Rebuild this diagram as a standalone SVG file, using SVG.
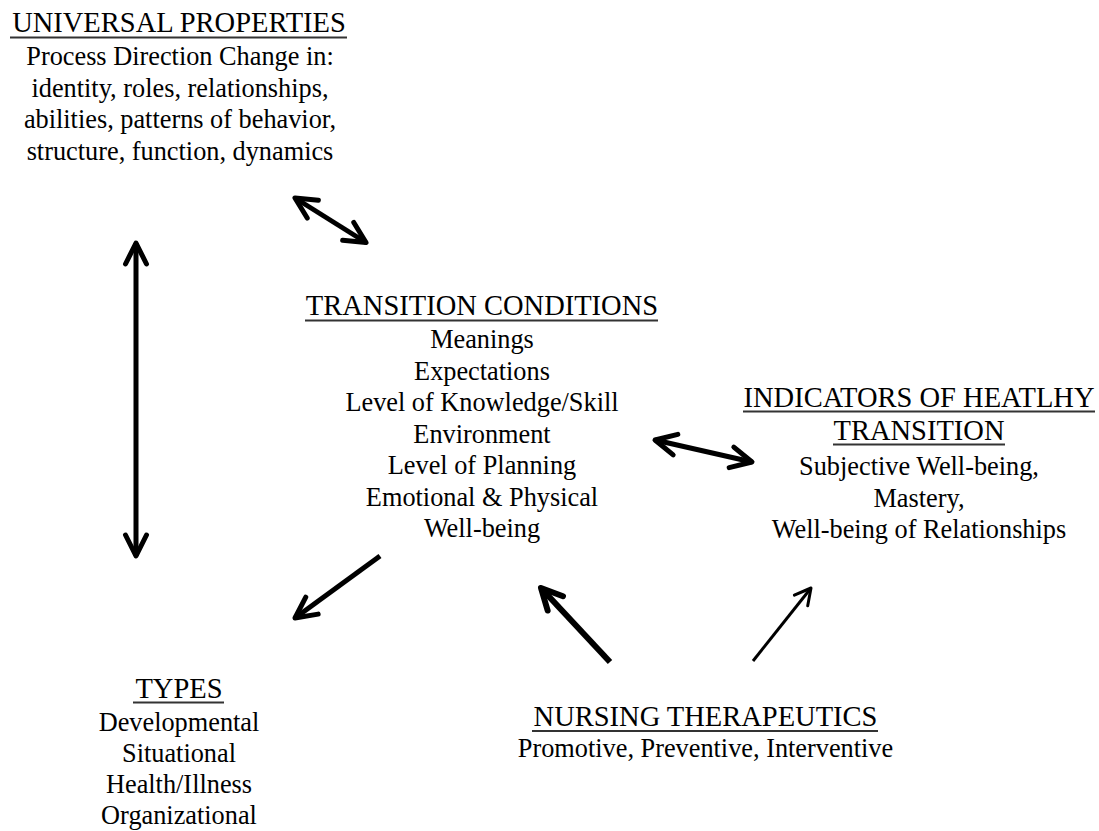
<svg xmlns="http://www.w3.org/2000/svg" width="1099" height="831" viewBox="0 0 1099 831">
<defs>
<style>
text{font-family:'Liberation Serif','Times New Roman',Times,'DejaVu Serif',serif;fill:#000;text-anchor:middle}
.t{font-size:28.5px}
.b{font-size:26.3px}
.u{stroke:#333;stroke-width:2}
.c{fill:none;stroke:#000;stroke-linecap:butt}
</style>
<marker id="ah" markerUnits="userSpaceOnUse" markerWidth="50" markerHeight="50" viewBox="-30 -25 50 50" refX="0" refY="0" orient="auto-start-reverse" overflow="visible">
<path d="M-21,-10.5 L0,0 L-21,10.5" fill="none" stroke="#000" stroke-width="5" stroke-linejoin="round" stroke-linecap="round"/>
</marker>
<marker id="ah6" markerUnits="userSpaceOnUse" markerWidth="50" markerHeight="50" viewBox="-30 -25 50 50" refX="0" refY="0" orient="auto" overflow="visible">
<path d="M-21,-10.5 L0,0 L-21,10.5" fill="none" stroke="#000" stroke-width="6" stroke-linejoin="round" stroke-linecap="round"/>
</marker>
<marker id="ah3" markerUnits="userSpaceOnUse" markerWidth="50" markerHeight="50" viewBox="-30 -25 50 50" refX="0" refY="0" orient="auto" overflow="visible">
<path d="M-16,-8.5 L0,0 L-16,8.5" fill="none" stroke="#000" stroke-width="3" stroke-linejoin="round" stroke-linecap="round"/>
</marker>
</defs>
<rect width="1099" height="831" fill="#fff"/>

<g id="universal-properties" font-family="Liberation Serif, serif">
<text class="t" x="179" y="32">UNIVERSAL PROPERTIES</text>
<line class="u" x1="10" y1="37.5" x2="347" y2="37.5"/>
<text class="b" x="180" y="65">Process Direction Change in:</text>
<text class="b" x="180" y="96.5">identity, roles, relationships,</text>
<text class="b" x="180" y="128">abilities, patterns of behavior,</text>
<text class="b" x="180" y="159.5">structure, function, dynamics</text>
</g>

<g id="transition-conditions" font-family="Liberation Serif, serif">
<text class="t" x="482" y="315">TRANSITION CONDITIONS</text>
<line class="u" x1="305" y1="320.5" x2="658" y2="320.5"/>
<text class="b" x="482" y="348">Meanings</text>
<text class="b" x="482" y="379.5">Expectations</text>
<text class="b" x="482" y="411">Level of Knowledge/Skill</text>
<text class="b" x="482" y="442.5">Environment</text>
<text class="b" x="482" y="474">Level of Planning</text>
<text class="b" x="482" y="505.5">Emotional &amp; Physical</text>
<text class="b" x="482" y="537">Well-being</text>
</g>

<g id="indicators" font-family="Liberation Serif, serif">
<text class="t" x="919" y="407">INDICATORS OF HEATLHY</text>
<line class="u" x1="743" y1="411.5" x2="1095" y2="411.5"/>
<text class="t" x="919" y="440">TRANSITION</text>
<line class="u" x1="833" y1="444.5" x2="1005" y2="444.5"/>
<text class="b" x="919" y="475">Subjective Well-being,</text>
<text class="b" x="919" y="506.5">Mastery,</text>
<text class="b" x="919" y="538">Well-being of Relationships</text>
</g>

<g id="types" font-family="Liberation Serif, serif">
<text class="t" x="179" y="698">TYPES</text>
<line class="u" x1="133" y1="702.5" x2="224" y2="702.5"/>
<text class="b" x="179" y="731">Developmental</text>
<text class="b" x="179" y="762">Situational</text>
<text class="b" x="179" y="793">Health/Illness</text>
<text class="b" x="179" y="824">Organizational</text>
</g>

<g id="nursing-therapeutics" font-family="Liberation Serif, serif">
<text class="t" x="705.5" y="726">NURSING THERAPEUTICS</text>
<line class="u" x1="532" y1="731" x2="878" y2="731"/>
<text class="b" x="705.5" y="757">Promotive, Preventive, Interventive</text>
</g>

<g id="connectors">
<path class="c" d="M295,198 L366,242.5" stroke-width="5" marker-start="url(#ah)" marker-end="url(#ah)"/>
<path class="c" d="M136,243 L136,556" stroke-width="5" marker-start="url(#ah)" marker-end="url(#ah)"/>
<path class="c" d="M655,440 L752,462" stroke-width="5" marker-start="url(#ah)" marker-end="url(#ah)"/>
<path class="c" d="M380,556 L295,618" stroke-width="5" marker-end="url(#ah)"/>
<path class="c" d="M610,662 L541,588" stroke-width="6" marker-end="url(#ah6)"/>
<path class="c" d="M753,661 L811,588" stroke-width="3" marker-end="url(#ah3)"/>
</g>
</svg>
